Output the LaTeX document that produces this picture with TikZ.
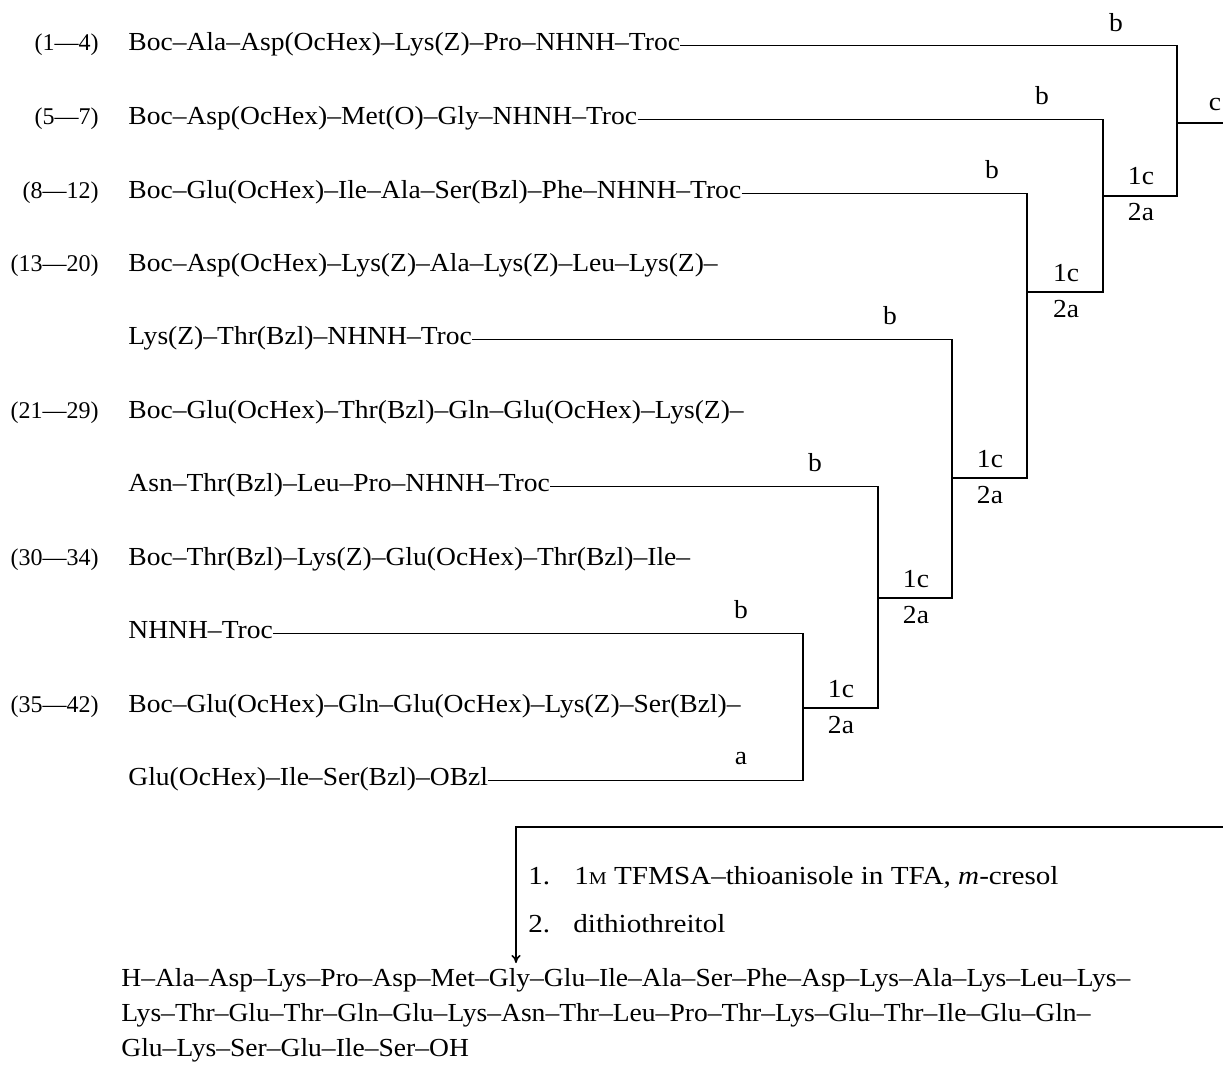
\documentclass[tikz,border=0pt]{standalone}
\usepackage{fontspec}
\setmainfont{Liberation Serif}
\newfontfamily\pepfont[Ligatures=TeX, FakeStretch=1.06]{Liberation Serif}
\newfontfamily\rgtfont[Ligatures=TeX, FakeStretch=1.12]{Liberation Serif}
\usetikzlibrary{arrows.meta}
\begin{document}
\begin{tikzpicture}[x=0.5pt, y=-0.5pt, font=\pepfont\fontsize{13}{15}\selectfont,
    pep/.style={anchor=base west, inner sep=0pt, text height=0.68em, text depth=0.22em},
    seg/.style={anchor=base east, inner sep=0pt, font=\rmfamily\fontsize{12}{14}\selectfont},
    lab/.style={anchor=base, inner sep=0pt},
    rgt/.style={anchor=base west, inner sep=0pt, font=\rgtfont\fontsize{13}{15}\selectfont},
    link/.style={line width=0.8pt}]
  \useasboundingbox (0,0) rectangle (1223,1072);

  % Fragment numbers
  \node[seg] (s1) at (99,50)  {(1---4)};
  \node[seg] (s2) at (99,124) {(5---7)};
  \node[seg] (s3) at (99,198) {(8---12)};
  \node[seg] (s4) at (99,271) {(13---20)};
  \node[seg] (s5) at (99,418) {(21---29)};
  \node[seg] (s6) at (99,565) {(30---34)};
  \node[seg] (s7) at (99,712) {(35---42)};

  % Protected fragments
  \node[pep] (r1)  at (128,50)  {Boc--Ala--Asp(OcHex)--Lys(Z)--Pro--NHNH--Troc};
  \node[pep] (r2)  at (128,124) {Boc--Asp(OcHex)--Met(O)--Gly--NHNH--Troc};
  \node[pep] (r3)  at (128,198) {Boc--Glu(OcHex)--Ile--Ala--Ser(Bzl)--Phe--NHNH--Troc};
  \node[pep] (r4a) at (128,271) {Boc--Asp(OcHex)--Lys(Z)--Ala--Lys(Z)--Leu--Lys(Z)--};
  \node[pep] (r4b) at (128,344) {Lys(Z)--Thr(Bzl)--NHNH--Troc};
  \node[pep] (r5a) at (128,418) {Boc--Glu(OcHex)--Thr(Bzl)--Gln--Glu(OcHex)--Lys(Z)--};
  \node[pep] (r5b) at (128,491) {Asn--Thr(Bzl)--Leu--Pro--NHNH--Troc};
  \node[pep] (r6a) at (128,565) {Boc--Thr(Bzl)--Lys(Z)--Glu(OcHex)--Thr(Bzl)--Ile--};
  \node[pep] (r6b) at (128,638) {NHNH--Troc};
  \node[pep] (r7a) at (128,712) {Boc--Glu(OcHex)--Gln--Glu(OcHex)--Lys(Z)--Ser(Bzl)--};
  \node[pep] (r7b) at (128,785) {Glu(OcHex)--Ile--Ser(Bzl)--OBzl};

  % Coupling points
  \coordinate (m2) at (1177,123);
  \coordinate (m3) at (1103,196);
  \coordinate (m4) at (1027,292);
  \coordinate (m5) at (952,478);
  \coordinate (m6) at (878,598);
  \coordinate (m7) at (803,708);
  \coordinate (out) at (1223,123);

  % Coupling tree
  \draw[link] (r6b.east) -| (m7) |- (r7b.east);
  \draw[link] (r5b.east) -| (m6) |- (m7);
  \draw[link] (r4b.east) -| (m5) |- (m6);
  \draw[link] (r3.east)  -| (m4) |- (m5);
  \draw[link] (r2.east)  -| (m3) |- (m4);
  \draw[link] (r1.east)  -| (m2) |- (m3);
  \draw[link] (m2) -- (out);

  % Branch labels
  \node[lab] (b1) at (1116,31)  {b};
  \node[lab] (b2) at (1042,104) {b};
  \node[lab] (b3) at (992,178)  {b};
  \node[lab] (b4) at (890,324)  {b};
  \node[lab] (b5) at (815,471)  {b};
  \node[lab] (b6) at (741,618)  {b};
  \node[lab] (a7) at (741,764)  {a};
  \node[lab] (c2) at (1215,110) {c};

  % Conditions at each coupling
  \node[lab] (k3) at (1141,184) {1c}; \node[lab] (w3) at (1141,220) {2a};
  \node[lab] (k4) at (1066,281) {1c}; \node[lab] (w4) at (1066,317) {2a};
  \node[lab] (k5) at (990,467)  {1c}; \node[lab] (w5) at (990,503)  {2a};
  \node[lab] (k6) at (916,587)  {1c}; \node[lab] (w6) at (916,623)  {2a};
  \node[lab] (k7) at (841,697)  {1c}; \node[lab] (w7) at (841,733)  {2a};

  % Deprotection
  \coordinate (in) at (1223,827);
  \coordinate (tip) at (516,963);
  \draw[link, -{To[length=4pt,width=4.5pt]}] (in) -| (tip);
  \node[rgt] (n1) at (528,884) {1.};
  \node[rgt] (t1) at (574,884) {1{\fontsize{9}{10}\selectfont M} TFMSA--thioanisole in TFA, \textit{m}-cresol};
  \node[rgt] (n2) at (528,932) {2.};
  \node[rgt] (t2) at (573,932) {dithiothreitol};

  % Free peptide
  \node[pep] (f1) at (121,986)  {H--Ala--Asp--Lys--Pro--Asp--Met--Gly--Glu--Ile--Ala--Ser--Phe--Asp--Lys--Ala--Lys--Leu--Lys--};
  \node[pep] (f2) at (121,1021) {Lys--Thr--Glu--Thr--Gln--Glu--Lys--Asn--Thr--Leu--Pro--Thr--Lys--Glu--Thr--Ile--Glu--Gln--};
  \node[pep] (f3) at (121,1056) {Glu--Lys--Ser--Glu--Ile--Ser--OH};
\end{tikzpicture}
\end{document}
